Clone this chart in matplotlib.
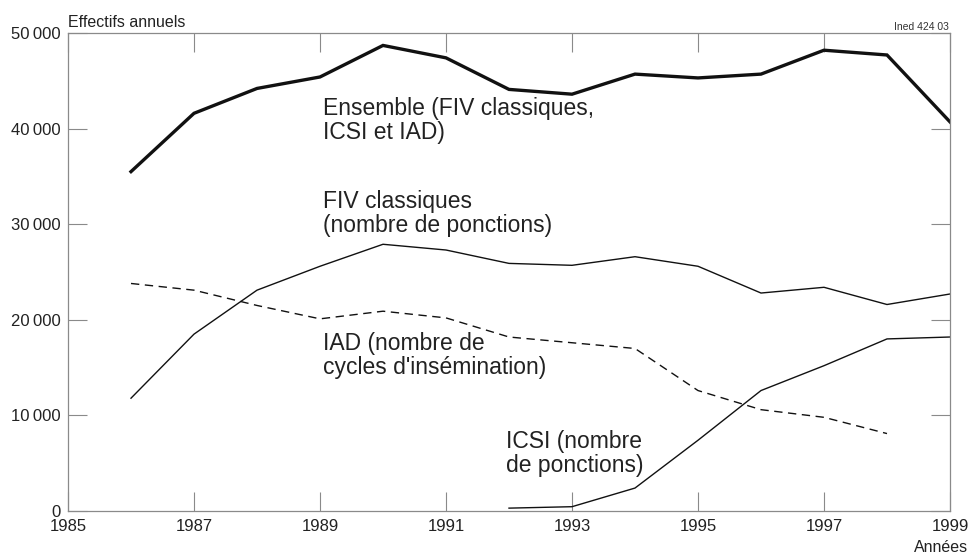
import matplotlib
matplotlib.use("Agg")
import matplotlib.pyplot as plt
from matplotlib.ticker import FuncFormatter

plt.rcParams['font.family'] = ['Liberation Sans', 'DejaVu Sans']

# values (annual counts)
years = list(range(1986, 2000))
ensemble = [35500, 41600, 44200, 45400, 48700, 47400, 44100, 43600,
            45700, 45300, 45700, 48200, 47700, 40700]
fiv = [11800, 18500, 23100, 25600, 27900, 27300, 25900, 25700,
       26600, 25600, 22800, 23400, 21600, 22700]
iad_years = list(range(1986, 1999))
iad = [23800, 23100, 21500, 20100, 20900, 20200, 18200, 17600,
       17000, 12600, 10600, 9800, 8100]
icsi_years = list(range(1992, 2000))
icsi = [300, 450, 2400, 7400, 12600, 15200, 18000, 18200]

x_labels = [1985, 1987, 1989, 1991, 1993, 1995, 1997, 1999]
y_ticks = [0, 10000, 20000, 30000, 40000, 50000]

W, H = 970, 556
fig = plt.figure(figsize=(W / 100, H / 100), dpi=100)
ax = fig.add_axes([68 / W, 45 / H, 882 / W, 478 / H])

ink = '#111111'
grey = '#8a8a8a'

ax.plot(years, ensemble, color=ink, lw=2.4, solid_joinstyle='miter')
ax.plot(years, fiv, color=ink, lw=1.0)
ax.plot(iad_years, iad, color=ink, lw=1.0, dashes=(6, 4))
ax.plot(icsi_years, icsi, color=ink, lw=1.0)

ax.set_xlim(1985, 1999)
ax.set_ylim(0, 50000)
ax.set_xticks(x_labels)
ax.set_yticks(y_ticks)
ax.yaxis.set_major_formatter(FuncFormatter(
    lambda v, p: '0' if v == 0 else f"{int(v) // 1000}\u2009000"))

ax.tick_params(axis='both', direction='in', length=14, width=0.8,
               color=grey, labelsize=12, labelcolor='#222222')
ax.tick_params(axis='x', top=True, pad=6)
ax.tick_params(axis='y', right=True, pad=5)
for s in ax.spines.values():
    s.set_color(grey)
    s.set_linewidth(0.9)

# va='baseline' sits on the last line of a multi-line label
label_kw = dict(fontsize=16.5, color='#222222', linespacing=1.04,
                va='baseline', ha='left')
ax.text(1989.05, 38900, "Ensemble (FIV classiques,\nICSI et IAD)", **label_kw)
ax.text(1989.05, 29200, "FIV classiques\n(nombre de ponctions)", **label_kw)
ax.text(1989.05, 14350, "IAD (nombre de\ncycles d'insémination)", **label_kw)
ax.text(1991.95, 4100, "ICSI (nombre\nde ponctions)", **label_kw)

fig.text(68 / W, 1 - 27 / H, "Effectifs annuels", fontsize=11.5,
         color='#222222', va='baseline', ha='left')
fig.text(949 / W, 1 - 30 / H, "Ined 424 03", fontsize=7.5,
         color='#333333', va='baseline', ha='right')
fig.text(968 / W, 1 - 552 / H, "Années", fontsize=11.5,
         color='#222222', va='baseline', ha='right')

fig.savefig("out.png", dpi=100)
